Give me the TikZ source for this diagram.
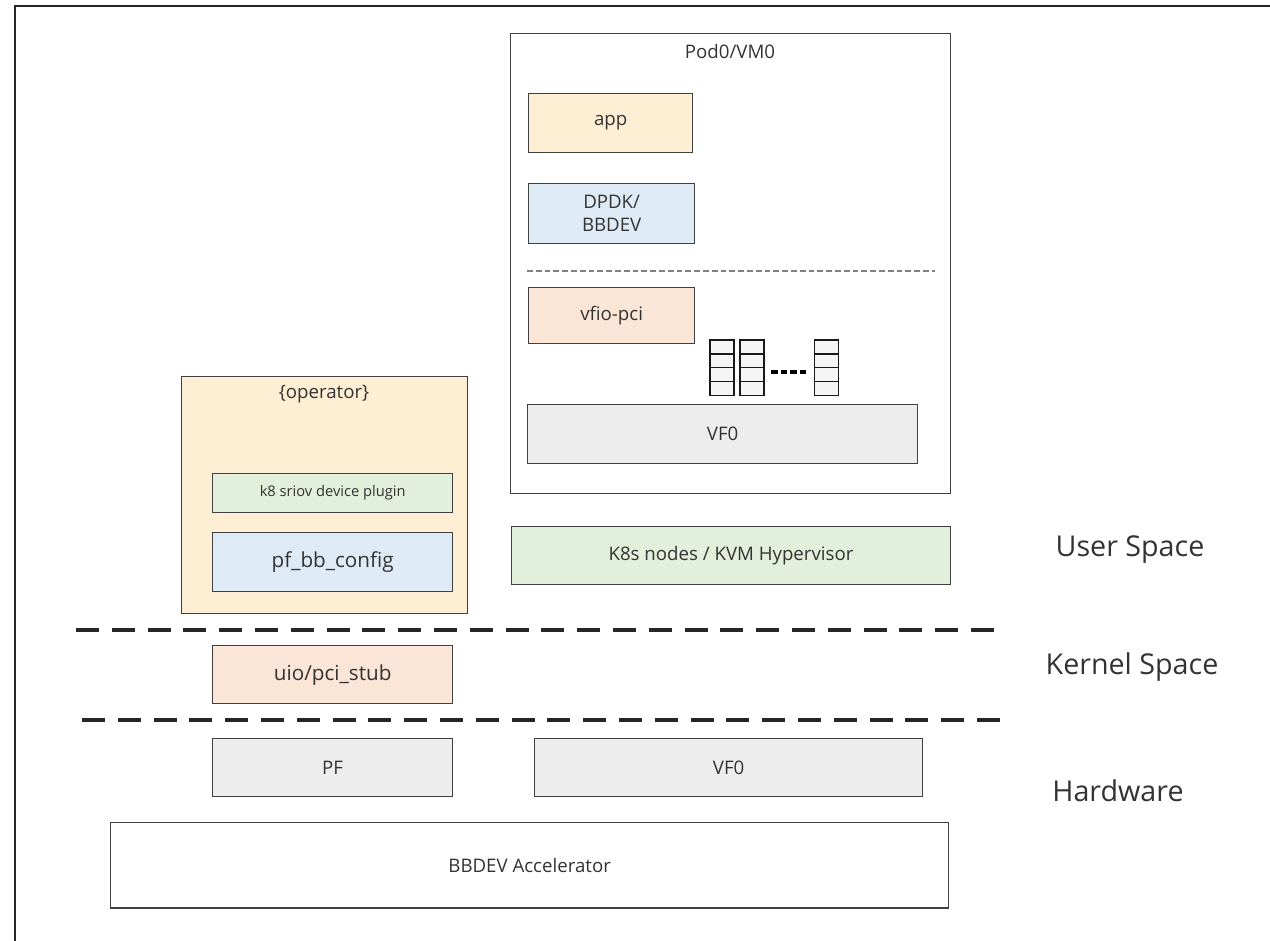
\documentclass[tikz,border=0pt]{standalone}
\usepackage{fontspec}
\setmainfont{Open Sans}
\begin{document}
\begin{tikzpicture}[x=0.75pt,y=-0.75pt,
  blk/.style={draw=black!75,line width=1pt,inner sep=0pt,font=\fontsize{14}{17}\selectfont,text=black!80,align=center},
  yel/.style={fill=yellow!20!orange!15!white},
  blu/.style={fill={rgb,255:red,222;green,235;blue,247}},
  pch/.style={fill={rgb,255:red,251;green,229;blue,214}},
  grn/.style={fill={rgb,255:red,226;green,239;blue,218}},
  gry/.style={fill={rgb,255:red,237;green,237;blue,237}},
  layer/.style={font=\fontsize{21.5}{25}\selectfont,text=black!80},
  sep/.style={line width=2.3pt,dash pattern=on 17.25pt off 9.6pt,black!85},
  cell/.style={draw=black!90,line width=1.1pt,fill=black!4,minimum width=18pt,minimum height=10.3pt,inner sep=0pt}
]
\useasboundingbox (0,0) rectangle (1270,941);
% page frame, running off the right and bottom
\draw[line width=1.3pt,black!85] (15,950) -- (15,6) -- (1280,6);

% Pod0/VM0 container
\node[blk,fill=white,minimum width=330pt,minimum height=345pt,anchor=north west] (pod) at (510,33) {};
\node[font=\fontsize{14}{17}\selectfont,text=black!80] (podt) at (730,52) {Pod0/VM0};
\node[blk,yel,minimum width=123pt,minimum height=44pt,anchor=north west] (app) at (528,93) {app};
\node[blk,blu,minimum width=124.5pt,minimum height=45pt,anchor=north west] (dpdk) at (528,183) {DPDK/\\BBDEV};
\coordinate (dl) at (527,271);
\coordinate (dr) at (935,271);
\draw[black!50,line width=1.4pt,dash pattern=on 4.3pt off 2.3pt] (dl) -- (dr);
\node[blk,pch,minimum width=124.5pt,minimum height=42pt,anchor=north west] (vfio) at (528,287) {vfio-pci};
% queue pairs
\foreach \qx/\qn in {722/a,752/b,826.5/c}{
  \foreach \k in {0,1,2,3}{
    \node[cell] (q\qn\k) at (\qx,{347+\k*13.8}) {};
  }
}
\coordinate (qdl) at (771,372);
\coordinate (qdr) at (806,372);
\draw[black,line width=2.5pt,dash pattern=on 5pt off 2.3pt] (qdl) -- (qdr);
\node[blk,gry,minimum width=292.5pt,minimum height=44pt,anchor=north west] (vfpod) at (527,404) {VF0};

% operator container
\node[blk,yel,minimum width=214.5pt,minimum height=177.5pt,anchor=north west] (op) at (181,376) {};
\node[font=\fontsize{14}{17}\selectfont,text=black!80] (opt) at (324,394) {\{operator\}};
\node[blk,grn,minimum width=180pt,minimum height=29pt,anchor=north west,font=\fontsize{11}{13}\selectfont] (plug) at (212,473) {k8 sriov device plugin};
\node[blk,blu,minimum width=180pt,minimum height=44pt,anchor=north west,font=\fontsize{15.5}{18}\selectfont] (pfbb) at (212,532) {pf\_bb\_config};

\node[blk,grn,minimum width=329pt,minimum height=43.5pt,anchor=north west] (k8s) at (511,526) {K8s nodes / KVM Hypervisor};
\node[layer] (us) at (1130,550) {User Space};

% user / kernel boundary
\coordinate (s1l) at (76,630);
\coordinate (s1r) at (996,630);
\draw[sep] (s1l) -- (s1r);
\node[blk,pch,minimum width=180pt,minimum height=43.5pt,anchor=north west,font=\fontsize{15.5}{18}\selectfont] (uio) at (212,645) {uio/pci\_stub};
\node[layer] (ks) at (1132,667) {Kernel Space};

% kernel / hardware boundary
\coordinate (s2l) at (82,720);
\coordinate (s2r) at (1002,720);
\draw[sep] (s2l) -- (s2r);
\node[blk,gry,minimum width=180pt,minimum height=43.5pt,anchor=north west] (pf) at (212,738) {PF};
\node[blk,gry,minimum width=291pt,minimum height=43.5pt,anchor=north west] (vfhw) at (534,738) {VF0};
\node[layer] (hw) at (1118,791) {Hardware};
\node[blk,fill=white,minimum width=628.5pt,minimum height=64pt,anchor=north west] (acc) at (110,822) {BBDEV Accelerator};
\end{tikzpicture}
\end{document}
